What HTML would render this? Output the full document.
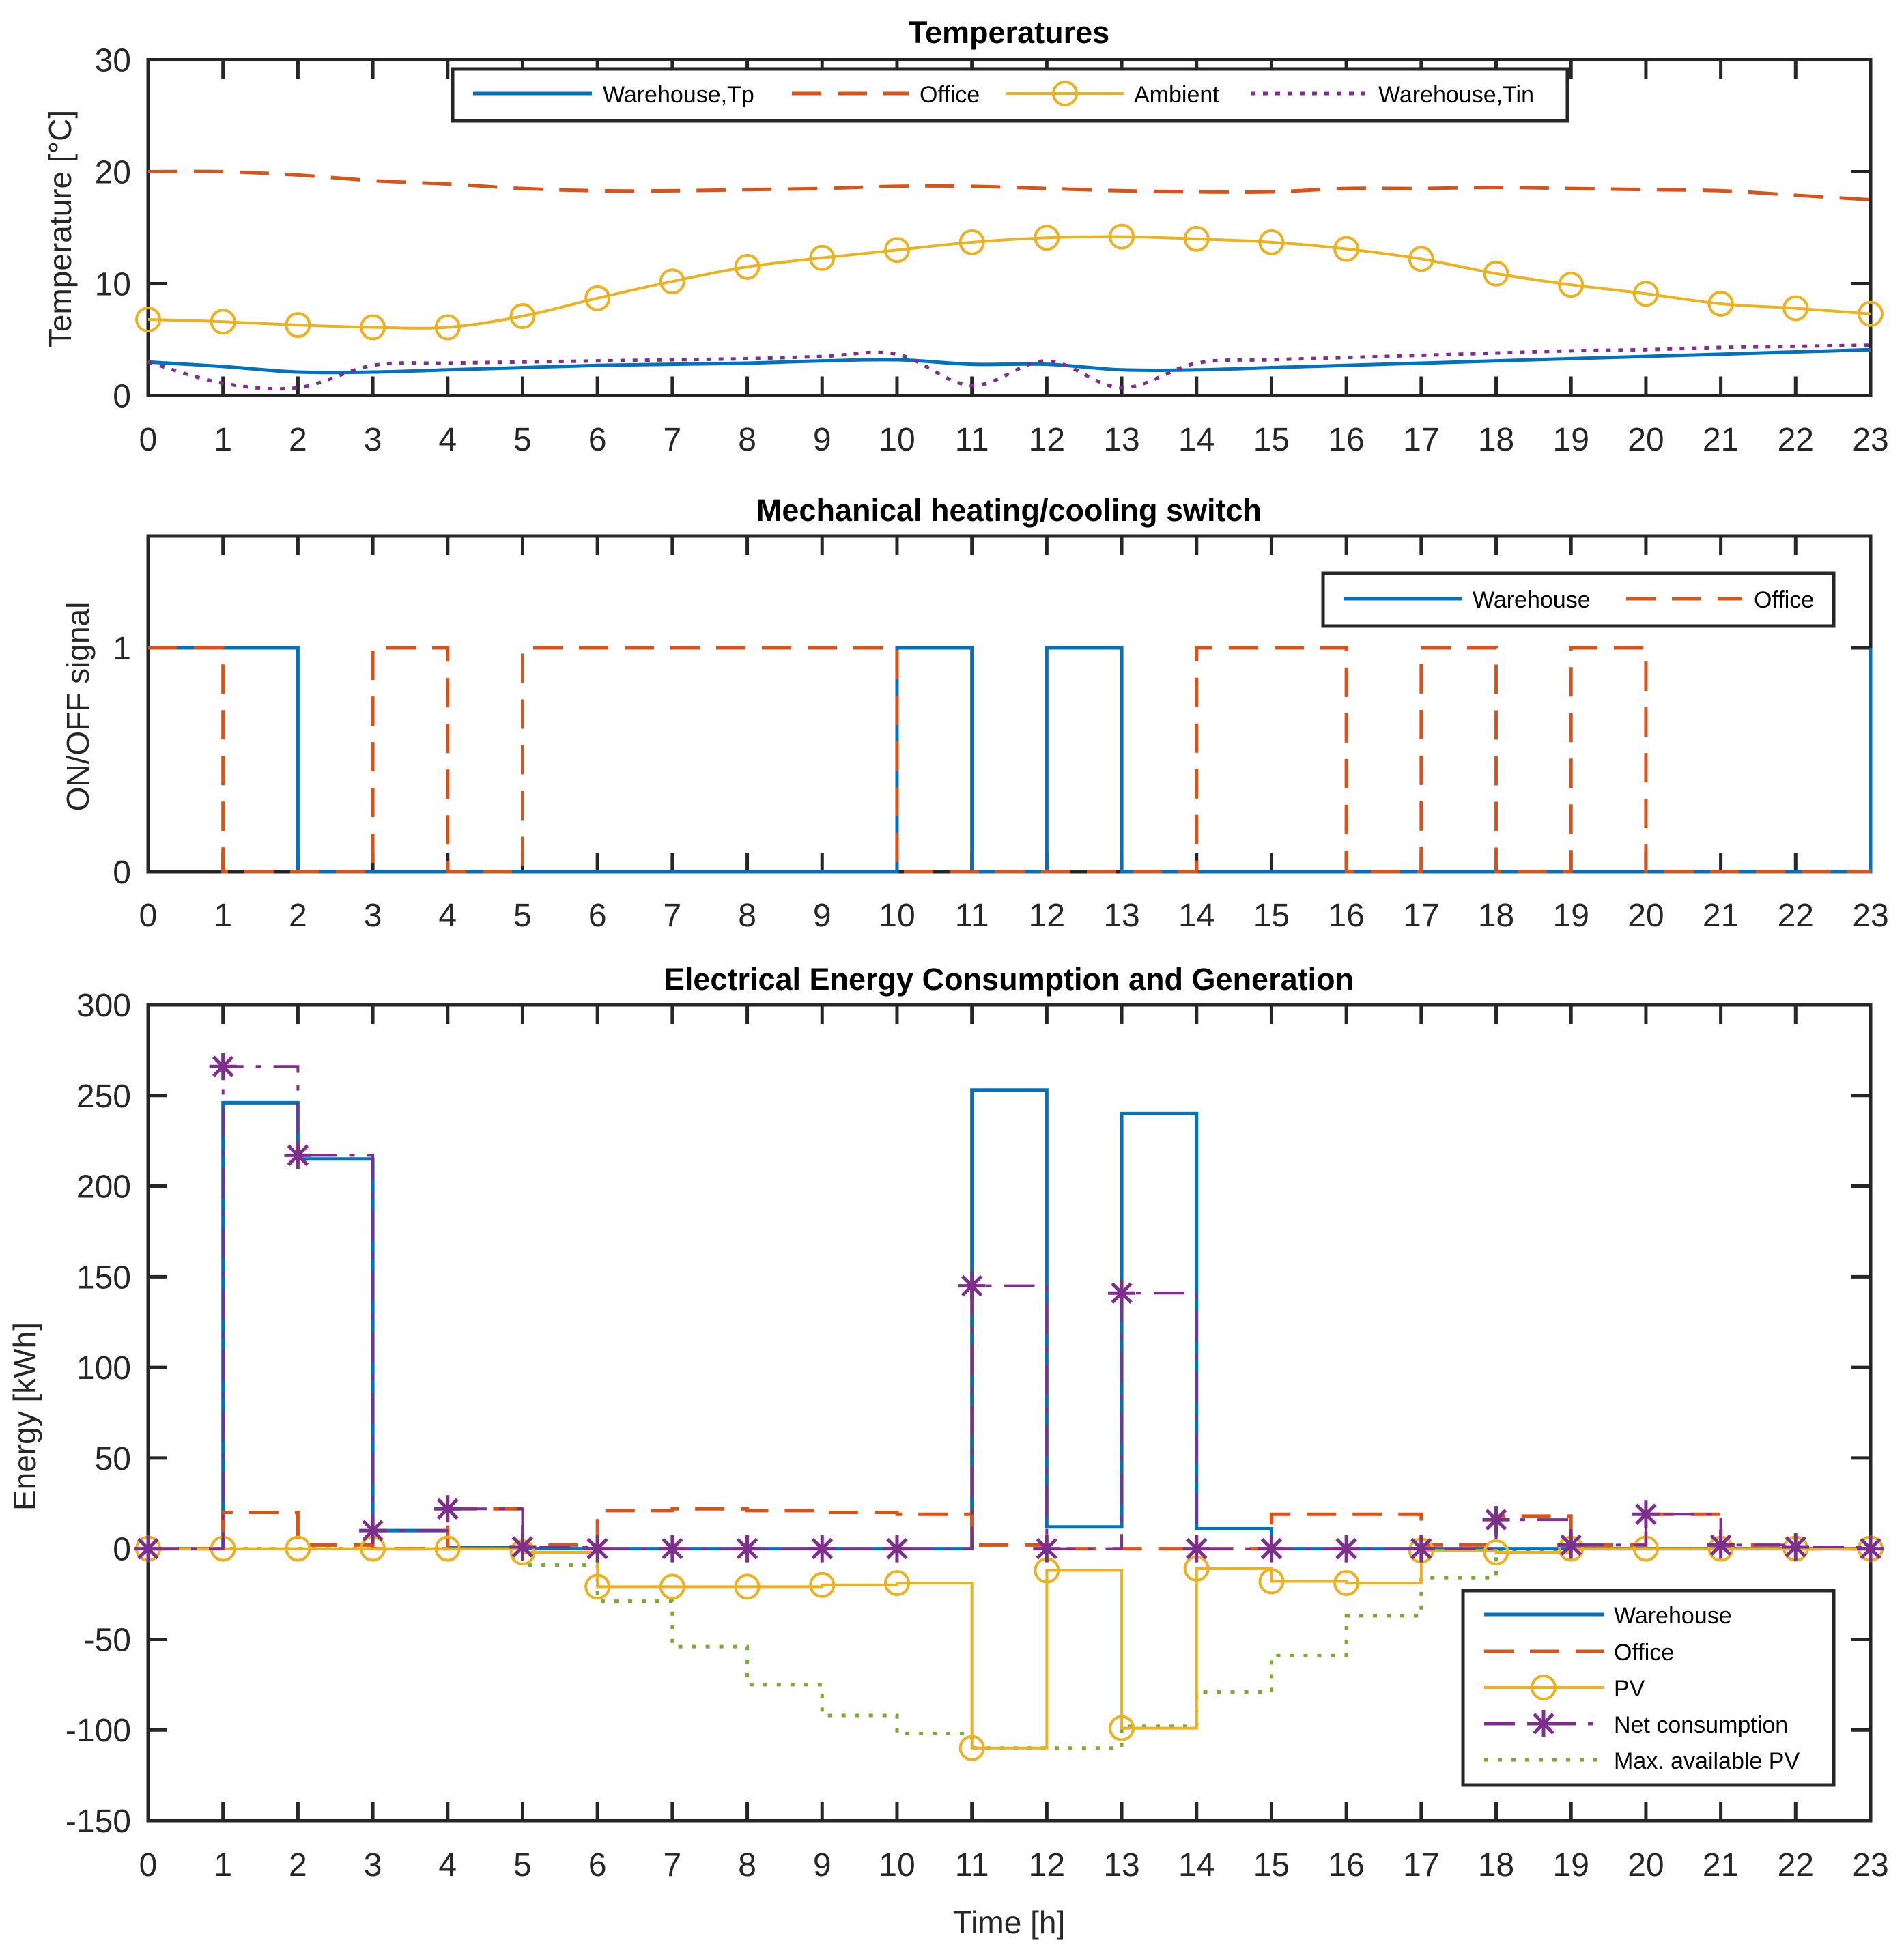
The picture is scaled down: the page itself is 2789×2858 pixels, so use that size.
<!DOCTYPE html>
<html><head><meta charset="utf-8"><style>
html,body{margin:0;padding:0;background:#fff;}
svg{display:block;font-family:"Liberation Sans",Arial,sans-serif;}
</style></head><body>
<svg id="chart" width="2789" height="2858" viewBox="0 0 2789 2858" xmlns="http://www.w3.org/2000/svg"></svg>
<script>
// ---------- data ----------
const hours = [0,1,2,3,4,5,6,7,8,9,10,11,12,13,14,15,16,17,18,19,20,21,22,23];
// Temperatures
const tempWarehouseTp = [3.0,2.6,2.1,2.1,2.3,2.5,2.7,2.8,2.9,3.1,3.2,2.8,2.8,2.3,2.3,2.5,2.7,2.9,3.1,3.3,3.5,3.7,3.9,4.1];
const tempOffice = [20,20,19.7,19.2,18.9,18.5,18.3,18.3,18.4,18.5,18.7,18.7,18.5,18.3,18.2,18.2,18.5,18.5,18.6,18.5,18.4,18.3,17.9,17.5];
const tempAmbient = [6.8,6.6,6.3,6.1,6.1,7.1,8.7,10.2,11.5,12.3,13.0,13.7,14.1,14.2,14.0,13.7,13.1,12.2,10.9,9.9,9.1,8.2,7.8,7.3];
const tempWarehouseTin = [3.0,1.1,0.7,2.7,2.9,3.0,3.1,3.2,3.3,3.5,3.7,0.9,3.1,0.7,2.9,3.2,3.4,3.6,3.8,4.0,4.1,4.3,4.4,4.5];
const tempTicks = [0,10,20,30];
// Switch
const switchWarehouse = [1,1,0,0,0,0,0,0,0,0,1,0,1,0,0,0,0,0,0,0,0,0,0,1];
const switchOffice = [1,0,0,1,0,1,1,1,1,1,0,0,0,0,1,1,0,1,0,1,0,0,0,0];
const switchTicks = [0,1];
// Energy
const energyWarehouse = [0,246,215,10,0.5,0,0,0,0,0,0,253,12,240,11,0,0,0,0,0,0,0,0,0];
const energyOffice = [0,20,2,0,22,2,21,22,21,20,19,2,0,0,0,19,19,2,18,2,19,2,0,0];
const energyPV = [0,0,0,0,0,-2,-21,-21,-21,-20,-19,-110,-12,-99,-11,-18,-19,-1,-2,0,0,0,0,0];
const energyNet = [0,266,217,10,22,1,0,0,0,0,0,145,0,141,0,0,0,0,16,2,19,2,1,0];
const energyMaxPV = [0,0,0,0,0,-9,-29,-54,-75,-92,-102,-110,-110,-98,-79,-59,-37,-16,-1,0,0,0,0,0];
const energyTicks = [-150,-100,-50,0,50,100,150,200,250,300];

// ---------- helpers ----------
const NS = "http://www.w3.org/2000/svg";
const svg = document.getElementById('chart');
const C = {blue:'#0072BD',orange:'#D95319',yellow:'#EDB120',purple:'#7E2F8E',green:'#77AC30',ax:'#262626'};
const XL = 217, XR = 2740;
function xs(h){ return XL + (h - 0) / 23 * (XR - XL); }
function mk(tag, attrs, parent){ const e = document.createElementNS(NS, tag); for (const k in attrs) e.setAttribute(k, attrs[k]); (parent||svg).appendChild(e); return e; }
function yScale(top, bottom, vmin, vmax){ return v => bottom - (v - vmin) / (vmax - vmin) * (bottom - top); }
function smoothPath(vals, ys){
  const p = vals.map((v,i)=>[xs(hours[i]), ys(v)]);
  let d = 'M' + p[0][0] + ' ' + p[0][1];
  for (let i=0;i<p.length-1;i++){
    const p0=p[Math.max(0,i-1)], p1=p[i], p2=p[i+1], p3=p[Math.min(p.length-1,i+2)];
    const c1=[p1[0]+(p2[0]-p0[0])/6, p1[1]+(p2[1]-p0[1])/6];
    const c2=[p2[0]-(p3[0]-p1[0])/6, p2[1]-(p3[1]-p1[1])/6];
    d += ' C'+c1[0]+' '+c1[1]+' '+c2[0]+' '+c2[1]+' '+p2[0]+' '+p2[1];
  }
  return d;
}
function stairPath(vals, ys){
  let d = 'M' + xs(hours[0]) + ' ' + ys(vals[0]);
  for (let i=1;i<vals.length;i++){
    d += ' L' + xs(hours[i]) + ' ' + ys(vals[i-1]) + ' L' + xs(hours[i]) + ' ' + ys(vals[i]);
  }
  return d;
}
function axes(top, bottom, ys, yticks, xLabelY, name){
  const g = mk('g', {});
  
  
  hours.forEach(h => {
    const x = xs(h);
    if (h>0 && h<23){
      mk('line',{x1:x,x2:x,y1:bottom,y2:bottom-28,stroke:C.ax,'stroke-width':5},g);
      mk('line',{x1:x,x2:x,y1:top,y2:top+28,stroke:C.ax,'stroke-width':5},g);
    }
    const t = mk('text',{x:x,y:xLabelY+17,'font-size':48,'text-anchor':'middle',fill:C.ax},g);
    t.textContent = h;
    
    
  });
  yticks.forEach(v => {
    const y = ys(v);
    mk('line',{x1:XL,x2:XL+28,y1:y,y2:y,stroke:C.ax,'stroke-width':5},g);
    mk('line',{x1:XR,x2:XR-28,y1:y,y2:y,stroke:C.ax,'stroke-width':5},g);
    const t = mk('text',{x:192,y:y+17,'font-size':48,'text-anchor':'end',fill:C.ax},g);
    t.textContent = v;
    
    
  });
  return g;
}
function frame(top,bottom){ mk('rect',{x:XL,y:top,width:XR-XL,height:bottom-top,fill:'none',stroke:C.ax,'stroke-width':5}); }
function circles(vals, ys, color, name){
  vals.forEach((v,i)=>{
    const c = mk('circle',{cx:xs(hours[i]),cy:ys(v),r:17,fill:'none',stroke:color,'stroke-width':4});
    
    
  });
}
function asterisk(x,y,g){
  const r=20;
  mk('path',{d:`M${x-r} ${y} L${x+r} ${y} M${x} ${y-r} L${x} ${y+r} M${x-r*0.7} ${y-r*0.7} L${x+r*0.7} ${y+r*0.7} M${x-r*0.7} ${y+r*0.7} L${x+r*0.7} ${y-r*0.7}`,stroke:C.purple,'stroke-width':5,fill:'none'},g);
}
function series(d, color, dash, name, w){
  const p = mk('path',{d:d,fill:'none',stroke:color,'stroke-width':w||5,'stroke-dasharray':dash||'none'});
  
  
  return p;
}
function txt(x,y,s,size,opts){
  const t = mk('text',Object.assign({x:x,y:y,'font-size':size,fill:'#000'},opts||{}));
  t.textContent = s; return t;
}

// ---------- Plot 1: Temperatures ----------
const T1 = 87.5, B1 = 579.5;
const y1 = yScale(T1, B1, 0, 30);
frame(T1,B1);
axes(T1, B1, y1, tempTicks, 643, 'temperature');
series(smoothPath(tempOffice,y1), C.orange, '43 24', 'office-temperature-line');
series(smoothPath(tempAmbient,y1), C.yellow, null, 'ambient-temperature-line', 4);
circles(tempAmbient, y1, C.yellow, 'ambient-marker');
series(smoothPath(tempWarehouseTp,y1), C.blue, null, 'warehouse-tp-line');
series(smoothPath(tempWarehouseTin,y1), C.purple, '7 11', 'warehouse-tin-line');
let t = txt(1478, 63, 'Temperatures', 45, {'font-weight':'bold','text-anchor':'middle'});
 
t = txt(0,0,'Temperature [°C]',46,{'text-anchor':'middle',fill:C.ax,transform:'translate(104,335) rotate(-90)'});
 
// legend 1
const lg1 = mk('g',{});
 
mk('rect',{x:663,y:101,width:1633,height:76,fill:'#fff',stroke:C.ax,'stroke-width':5},lg1);
mk('line',{x1:693,x2:867,y1:137,y2:137,stroke:C.blue,'stroke-width':5},lg1);
lg1.appendChild(txt(883,150,'Warehouse,Tp',34,{}));
mk('line',{x1:1160,x2:1331,y1:137,y2:137,stroke:C.orange,'stroke-width':5,'stroke-dasharray':'43 24'},lg1);
lg1.appendChild(txt(1347,150,'Office',34,{}));
mk('line',{x1:1474,x2:1646,y1:137,y2:137,stroke:C.yellow,'stroke-width':4},lg1);
mk('circle',{cx:1560,cy:137,r:17,fill:'none',stroke:C.yellow,'stroke-width':4},lg1);
lg1.appendChild(txt(1661,150,'Ambient',34,{}));
mk('line',{x1:1832,x2:2000,y1:137,y2:137,stroke:C.purple,'stroke-width':5,'stroke-dasharray':'7 11'},lg1);
lg1.appendChild(txt(2019,150,'Warehouse,Tin',34,{}));

// ---------- Plot 2: Switch ----------
const T2 = 785, B2 = 1277;
const y2 = yScale(T2, B2, 0, 1.5);
frame(T2,B2);
axes(T2, B2, y2, switchTicks, 1340, 'switch');
series(stairPath(switchWarehouse,y2), C.blue, null, 'warehouse-switch-line');
series(stairPath(switchOffice,y2), C.orange, '43 24', 'office-switch-line');
t = txt(1478, 763, 'Mechanical heating/cooling switch', 45, {'font-weight':'bold','text-anchor':'middle'});
 
t = txt(0,0,'ON/OFF signal',46,{'text-anchor':'middle',fill:C.ax,transform:'translate(130,1035) rotate(-90)'});
 
const lg2 = mk('g',{});
 
mk('rect',{x:1938,y:840,width:748,height:77,fill:'#fff',stroke:C.ax,'stroke-width':5},lg2);
mk('line',{x1:1968,x2:2142,y1:877,y2:877,stroke:C.blue,'stroke-width':5},lg2);
lg2.appendChild(txt(2157,890,'Warehouse',34,{}));
mk('line',{x1:2382,x2:2552,y1:877,y2:877,stroke:C.orange,'stroke-width':5,'stroke-dasharray':'43 24'},lg2);
lg2.appendChild(txt(2569,890,'Office',34,{}));

// ---------- Plot 3: Energy ----------
const T3 = 1472, B3 = 2667;
const y3 = yScale(T3, B3, -150, 300);
frame(T3,B3);
axes(T3, B3, y3, energyTicks, 2731, 'energy');
series(stairPath(energyMaxPV,y3), C.green, '6 14', 'max-available-pv-line');
series(stairPath(energyWarehouse,y3), C.blue, null, 'warehouse-energy-line');
series(stairPath(energyOffice,y3), C.orange, '43 24', 'office-energy-line');
series(stairPath(energyPV,y3), C.yellow, null, 'pv-energy-line', 4);
circles(energyPV, y3, C.yellow, 'pv-marker');
series(stairPath(energyNet,y3), C.purple, '45 18 8 18', 'net-consumption-line', 4);
const ast = mk('g',{});
 
energyNet.forEach((v,i)=>asterisk(xs(hours[i]), y3(v), ast));
t = txt(1478, 1450, 'Electrical Energy Consumption and Generation', 45, {'font-weight':'bold','text-anchor':'middle'});
 
t = txt(0,0,'Energy [kWh]',46,{'text-anchor':'middle',fill:C.ax,transform:'translate(52,2075) rotate(-90)'});
 
t = txt(1478, 2832, 'Time [h]', 46, {'text-anchor':'middle',fill:C.ax});
 
const lg3 = mk('g',{});
 
mk('rect',{x:2143,y:2330,width:543,height:285,fill:'#fff',stroke:C.ax,'stroke-width':5},lg3);
mk('line',{x1:2174,x2:2349,y1:2365,y2:2365,stroke:C.blue,'stroke-width':5},lg3);
lg3.appendChild(txt(2364,2378,'Warehouse',34,{}));
mk('line',{x1:2174,x2:2349,y1:2419,y2:2419,stroke:C.orange,'stroke-width':5,'stroke-dasharray':'43 24'},lg3);
lg3.appendChild(txt(2364,2432,'Office',34,{}));
mk('line',{x1:2174,x2:2349,y1:2472,y2:2472,stroke:C.yellow,'stroke-width':4},lg3);
mk('circle',{cx:2261,cy:2472,r:17,fill:'none',stroke:C.yellow,'stroke-width':4},lg3);
lg3.appendChild(txt(2364,2485,'PV',34,{}));
mk('line',{x1:2174,x2:2349,y1:2525,y2:2525,stroke:C.purple,'stroke-width':5,'stroke-dasharray':'45 18 8 18'},lg3);
asterisk(2261,2525,lg3);
lg3.appendChild(txt(2364,2538,'Net consumption',34,{}));
mk('line',{x1:2174,x2:2349,y1:2578,y2:2578,stroke:C.green,'stroke-width':5,'stroke-dasharray':'6 14'},lg3);
lg3.appendChild(txt(2364,2591,'Max. available PV',34,{}));
</script>
</body></html>
